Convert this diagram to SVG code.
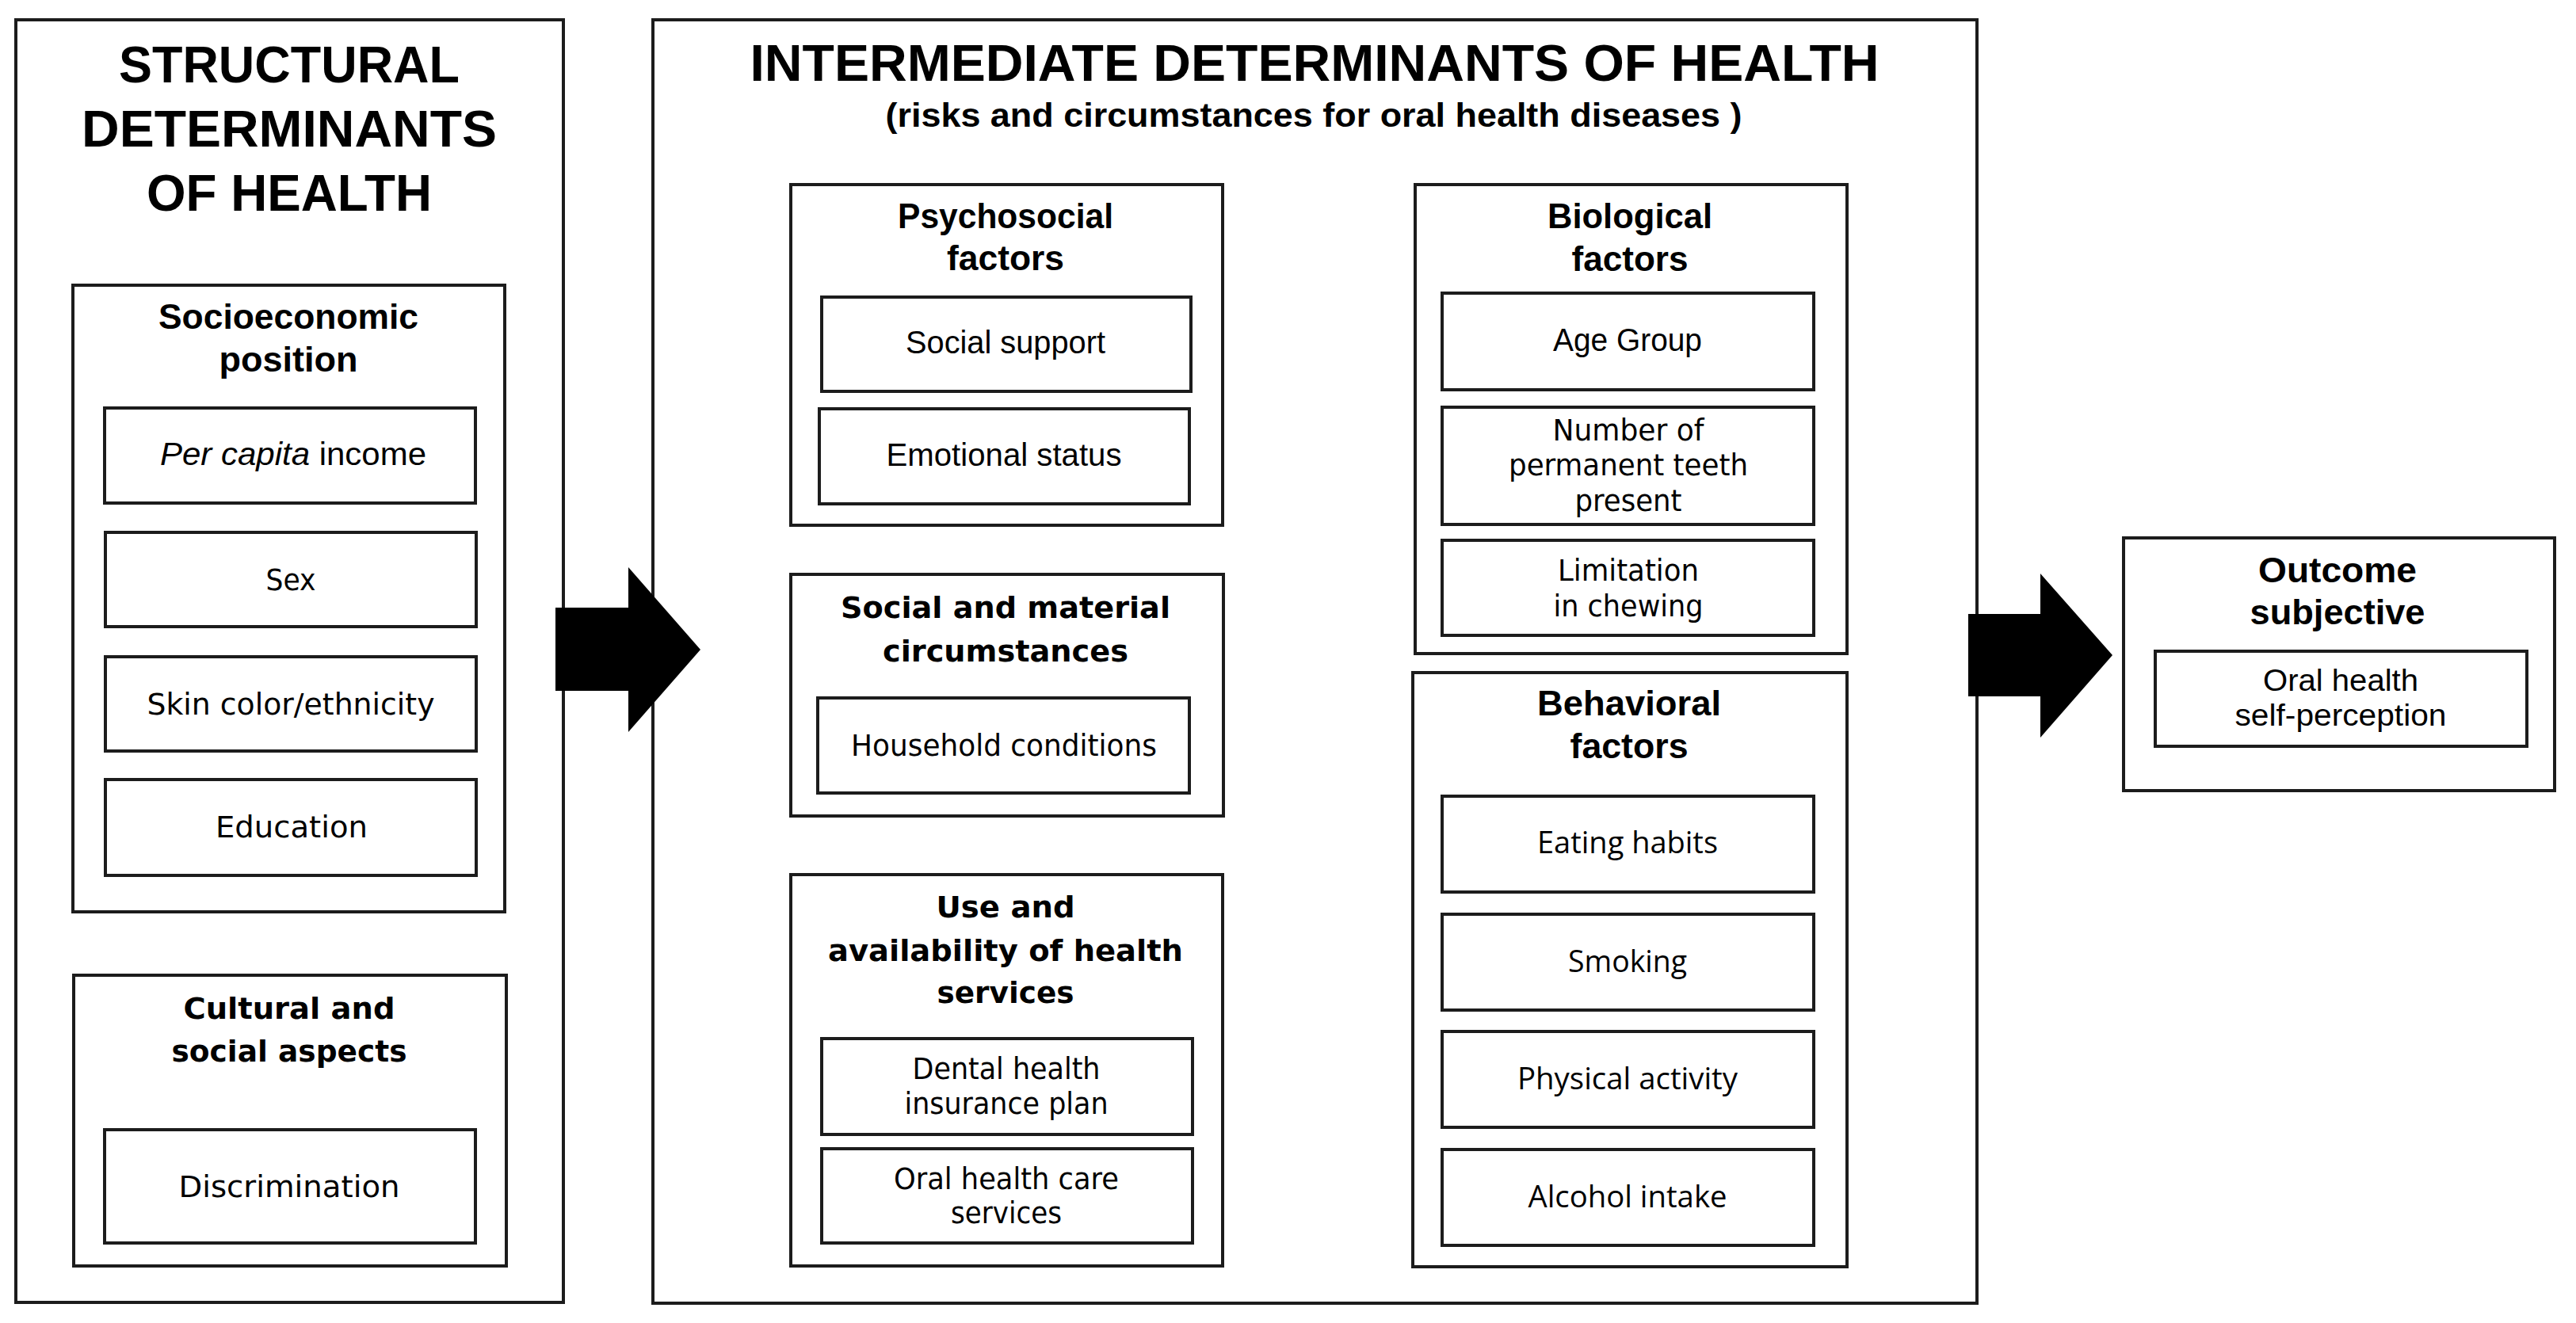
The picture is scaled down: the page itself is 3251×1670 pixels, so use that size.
<svg xmlns="http://www.w3.org/2000/svg" width="3251" height="1670" viewBox="0 0 3251 1670">
<style>
rect{fill:none;stroke:#1c1c1c;stroke-width:4}
rect.outer{stroke-width:4}
text{fill:#000;text-anchor:middle}
.title{font-family:"Liberation Sans",Arial,sans-serif;font-weight:bold;font-size:65px}
.sub{font-family:"Liberation Sans",Arial,sans-serif;font-weight:bold;font-size:42px}
.hc{font-family:"Liberation Sans",Arial,sans-serif;font-weight:bold;font-size:45px}
.hv{font-family:"DejaVu Sans",Verdana,sans-serif;font-weight:bold;font-size:38px}
.ic{font-family:"Liberation Sans",Arial,sans-serif;font-size:40px}
.ic2{font-family:"Liberation Sans",Arial,sans-serif;font-size:38px}
.iv{font-family:"DejaVu Sans",Verdana,sans-serif;font-size:37px}
.io{font-family:"Open Sans","DejaVu Sans",sans-serif;font-size:38px}
.arrow{fill:#000;stroke:none}
</style>
<rect x="0" y="0" width="3251" height="1670" style="fill:#fff;stroke:none"/>

<g id="structural">
<rect class="outer" x="20" y="25" width="691" height="1619"/>
<text class="title" x="365" y="104" textLength="430" lengthAdjust="spacingAndGlyphs">STRUCTURAL</text>
<text class="title" x="365" y="185" textLength="524" lengthAdjust="spacingAndGlyphs">DETERMINANTS</text>
<text class="title" x="365" y="266" textLength="360" lengthAdjust="spacingAndGlyphs">OF HEALTH</text>
</g>

<g id="socioeconomic">
<rect x="92" y="360" width="545" height="791"/>
<text class="hc" x="364" y="415" textLength="328" lengthAdjust="spacingAndGlyphs">Socioeconomic</text>
<text class="hc" x="364" y="469" textLength="175" lengthAdjust="spacingAndGlyphs">position</text>
</g>
<g id="per-capita">
<rect x="132" y="515" width="468" height="120"/>
<text class="ic" x="370" y="587" textLength="336" lengthAdjust="spacingAndGlyphs"><tspan font-style="italic">Per capita</tspan> income</text>
</g>
<g id="sex">
<rect x="133" y="672" width="468" height="119"/>
<text class="iv" x="367" y="745" textLength="63" lengthAdjust="spacingAndGlyphs">Sex</text>
</g>
<g id="skin">
<rect x="133" y="829" width="468" height="119"/>
<text class="iv" x="367" y="902" textLength="363" lengthAdjust="spacingAndGlyphs">Skin color/ethnicity</text>
</g>
<g id="education">
<rect x="133" y="984" width="468" height="121"/>
<text class="iv" x="368" y="1057" textLength="192" lengthAdjust="spacingAndGlyphs">Education</text>
</g>
<g id="cultural">
<rect x="93" y="1231" width="546" height="367"/>
<text class="hv" x="365" y="1286" textLength="267" lengthAdjust="spacingAndGlyphs">Cultural and</text>
<text class="hv" x="365" y="1340" textLength="297" lengthAdjust="spacingAndGlyphs">social aspects</text>
</g>
<g id="discrimination">
<rect x="132" y="1426" width="468" height="143"/>
<text class="iv" x="365" y="1511" textLength="279" lengthAdjust="spacingAndGlyphs">Discrimination</text>
</g>

<g id="intermediate">
<rect class="outer" x="824" y="25" width="1671" height="1620"/>
<text class="title" x="1659" y="102" textLength="1425" lengthAdjust="spacingAndGlyphs">INTERMEDIATE DETERMINANTS OF HEALTH</text>
<text class="sub" x="1658" y="160" textLength="1081" lengthAdjust="spacingAndGlyphs">(risks and circumstances for oral health diseases )</text>
</g>

<g id="psychosocial">
<rect x="998" y="233" width="545" height="430"/>
<text class="hc" x="1269" y="288" textLength="272" lengthAdjust="spacingAndGlyphs">Psychosocial</text>
<text class="hc" x="1269" y="341" textLength="148" lengthAdjust="spacingAndGlyphs">factors</text>
</g>
<g id="social-support">
<rect x="1037" y="375" width="466" height="119"/>
<text class="ic" x="1269" y="446" textLength="252" lengthAdjust="spacingAndGlyphs">Social support</text>
</g>
<g id="emotional">
<rect x="1034" y="516" width="467" height="120"/>
<text class="ic" x="1267" y="588" textLength="297" lengthAdjust="spacingAndGlyphs">Emotional status</text>
</g>

<g id="social-material">
<rect x="998" y="725" width="546" height="305"/>
<text class="hv" x="1269" y="780" textLength="416" lengthAdjust="spacingAndGlyphs">Social and material</text>
<text class="hv" x="1269" y="835" textLength="310" lengthAdjust="spacingAndGlyphs">circumstances</text>
</g>
<g id="household">
<rect x="1032" y="881" width="469" height="120"/>
<text class="iv" x="1267" y="954" textLength="386" lengthAdjust="spacingAndGlyphs">Household conditions</text>
</g>

<g id="health-services">
<rect x="998" y="1104" width="545" height="494"/>
<text class="hv" x="1269" y="1158" textLength="175" lengthAdjust="spacingAndGlyphs">Use and</text>
<text class="hv" x="1269" y="1213" textLength="448" lengthAdjust="spacingAndGlyphs">availability of health</text>
<text class="hv" x="1269" y="1266" textLength="173" lengthAdjust="spacingAndGlyphs">services</text>
</g>
<g id="dental-plan">
<rect x="1037" y="1311" width="468" height="121"/>
<text class="iv" x="1270" y="1362" textLength="237" lengthAdjust="spacingAndGlyphs">Dental health</text>
<text class="iv" x="1270" y="1406" textLength="257" lengthAdjust="spacingAndGlyphs">insurance plan</text>
</g>
<g id="oral-care">
<rect x="1037" y="1450" width="468" height="119"/>
<text class="iv" x="1270" y="1501" textLength="284" lengthAdjust="spacingAndGlyphs">Oral health care</text>
<text class="iv" x="1270" y="1544" textLength="140" lengthAdjust="spacingAndGlyphs">services</text>
</g>

<g id="biological">
<rect x="1786" y="233" width="545" height="592"/>
<text class="hc" x="2057" y="288" textLength="208" lengthAdjust="spacingAndGlyphs">Biological</text>
<text class="hc" x="2057" y="342" textLength="147" lengthAdjust="spacingAndGlyphs">factors</text>
</g>
<g id="age-group">
<rect x="1820" y="370" width="469" height="122"/>
<text class="ic" x="2054" y="443" textLength="188" lengthAdjust="spacingAndGlyphs">Age Group</text>
</g>
<g id="teeth">
<rect x="1820" y="514" width="469" height="148"/>
<text class="iv" x="2055" y="556" textLength="191" lengthAdjust="spacingAndGlyphs">Number of</text>
<text class="iv" x="2055" y="600" textLength="302" lengthAdjust="spacingAndGlyphs">permanent teeth</text>
<text class="iv" x="2055" y="645" textLength="135" lengthAdjust="spacingAndGlyphs">present</text>
</g>
<g id="chewing">
<rect x="1820" y="682" width="469" height="120"/>
<text class="iv" x="2055" y="733" textLength="178" lengthAdjust="spacingAndGlyphs">Limitation</text>
<text class="iv" x="2055" y="778" textLength="189" lengthAdjust="spacingAndGlyphs">in chewing</text>
</g>

<g id="behavioral">
<rect x="1783" y="849" width="548" height="750"/>
<text class="hc" x="2056" y="903" textLength="232" lengthAdjust="spacingAndGlyphs">Behavioral</text>
<text class="hc" x="2056" y="957" textLength="149" lengthAdjust="spacingAndGlyphs">factors</text>
</g>
<g id="eating">
<rect x="1820" y="1005" width="469" height="121"/>
<text class="io" x="2054" y="1077" textLength="228" lengthAdjust="spacingAndGlyphs">Eating habits</text>
</g>
<g id="smoking">
<rect x="1820" y="1154" width="469" height="121"/>
<text class="io" x="2054" y="1227" textLength="150" lengthAdjust="spacingAndGlyphs">Smoking</text>
</g>
<g id="physical">
<rect x="1820" y="1302" width="469" height="121"/>
<text class="io" x="2054" y="1375" textLength="278" lengthAdjust="spacingAndGlyphs">Physical activity</text>
</g>
<g id="alcohol">
<rect x="1820" y="1451" width="469" height="121"/>
<text class="io" x="2054" y="1524" textLength="251" lengthAdjust="spacingAndGlyphs">Alcohol intake</text>
</g>

<g id="outcome">
<rect x="2680" y="679" width="544" height="319"/>
<text class="hc" x="2950" y="735" textLength="200" lengthAdjust="spacingAndGlyphs">Outcome</text>
<text class="hc" x="2950" y="788" textLength="221" lengthAdjust="spacingAndGlyphs">subjective</text>
</g>
<g id="self-perception">
<rect x="2720" y="822" width="469" height="120"/>
<text class="ic2" x="2954" y="872" textLength="196" lengthAdjust="spacingAndGlyphs">Oral health</text>
<text class="ic2" x="2954" y="916" textLength="267" lengthAdjust="spacingAndGlyphs">self-perception</text>
</g>

<g id="connectors">
<polygon class="arrow" points="701,767 793,767 793,716 884,820 793,924 793,872 701,872"/>
<polygon class="arrow" points="2484,775 2575,775 2575,724 2666,827 2575,931 2575,879 2484,879"/>
</g>
</svg>
